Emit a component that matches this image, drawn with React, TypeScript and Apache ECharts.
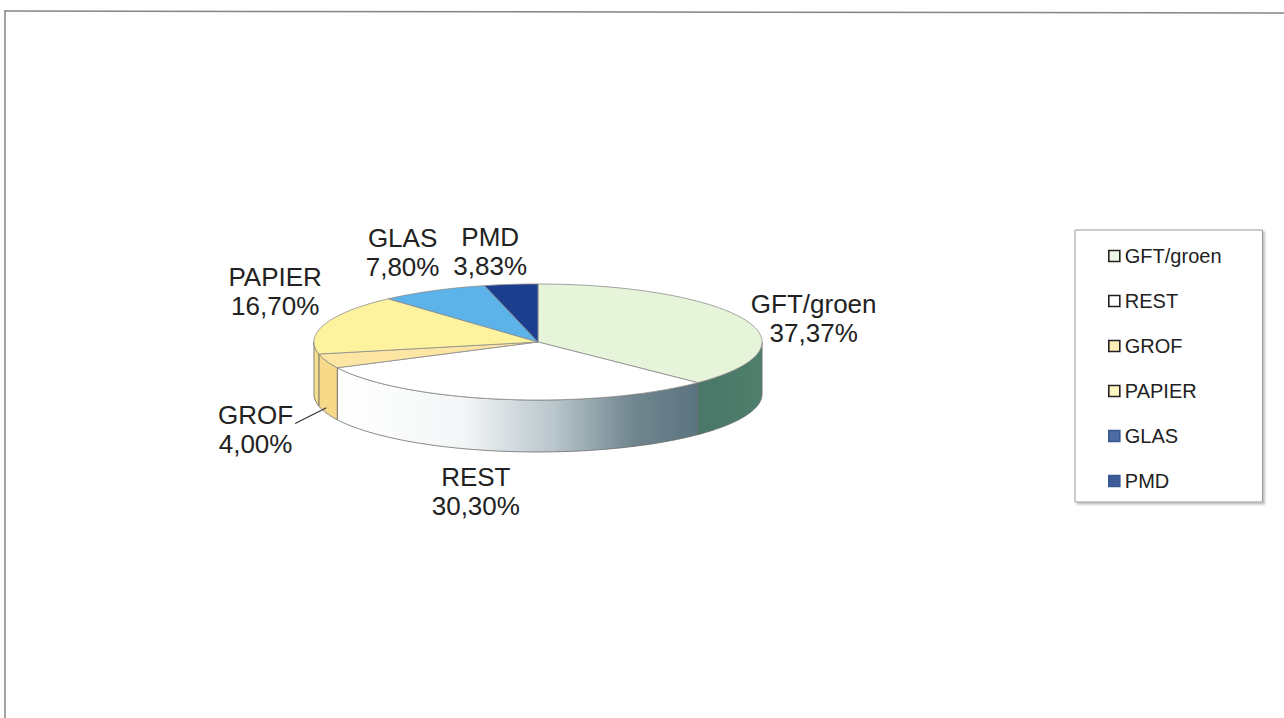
import React, { useEffect, useRef } from "react";
import * as echarts from "echarts";

// ---- data ----
const categories = ["GFT/groen", "REST", "GROF", "PAPIER", "GLAS", "PMD"];
const shares = [37.37, 30.3, 4.0, 16.7, 7.8, 3.83];

// ---- styles ----
const topColors = ["#e6f4d9", "#ffffff", "#fde6a4", "#fdf39e", "#5cb3ea", "#1c3e8e"];
const legendColors = ["#eef7e6", "#ffffff", "#fdebb8", "#fdf6c0", "#4d6ca6", "#3d5c98"];
const legendBorders = ["#222", "#222", "#222", "#222", "#3a5890", "#3a5890"];
const FONT = '"Liberation Sans", Arial, Helvetica, sans-serif';
const LABEL_SIZE = 26;
const LABEL_LH = 29;
// small layout tweaks of the data labels (like Excel's best-fit placement)
const labelNudge: Record<string, [number, number]> = {
  "GFT/groen": [0, 15],
  REST: [-18, 0],
  GROF: [-24, 3],
  PAPIER: [6, -20],
  GLAS: [-8, -2],
  PMD: [-15, 8],
};
const leaderFor: Record<string, boolean> = { GROF: true };

let measureCtx: CanvasRenderingContext2D | null = null;
function textWidth(t: string, size: number) {
  if (!measureCtx) measureCtx = document.createElement("canvas").getContext("2d");
  if (!measureCtx) return t.length * size * 0.55;
  measureCtx.font = `${size}px ${FONT}`;
  return measureCtx.measureText(t).width;
}

function sideFill(i: number) {
  if (i === 0)
    return new echarts.graphic.LinearGradient(0, 0, 1, 0, [
      { offset: 0, color: "#4a7767" },
      { offset: 1, color: "#4f7f6d" },
    ]);
  if (i === 1)
    return new echarts.graphic.LinearGradient(0, 0, 1, 0, [
      { offset: 0, color: "#ffffff" },
      { offset: 0.35, color: "#f3f6f7" },
      { offset: 0.6, color: "#b9c6cc" },
      { offset: 0.82, color: "#71868f" },
      { offset: 1, color: "#5b7480" },
    ]);
  const flat = ["", "", "#f7d98a", "#f2e08a", "#3d8fc8", "#12306f"];
  return flat[i];
}

export default function App() {
  const ref = useRef<HTMLDivElement>(null);
  useEffect(() => {
    document.body.style.margin = "0";
    const chart = echarts.init(ref.current!, null, { renderer: "svg" });
    const total = shares.reduce((a, b) => a + b, 0);
    let acc = 0;
    const ranges = shares.map((v) => {
      const s = acc / total;
      acc += v;
      return [s, acc / total];
    });

    const series = categories.map((name, i) => ({
      type: "custom",
      name,
      coordinateSystem: "none",
      itemStyle: { color: topColors[i] },
      data: [{ name, value: [ranges[i][0], ranges[i][1], shares[i]] }],
      renderItem: (params: any, api: any) => {
        const W = api.getWidth();
        const H = api.getHeight();
        const cx = W * 0.419;
        const cy = H * 0.4763;
        const rx = W * 0.1745;
        const ry = H * 0.0808;
        const depth = H * 0.0724;
        const a = api.value(0) * 360;
        const b = api.value(1) * 360;
        const v = api.value(2);
        const pt = (deg: number, dz: number) => {
          const r = (deg * Math.PI) / 180;
          return [cx + rx * Math.sin(r), cy - ry * Math.cos(r) + dz];
        };
        const arc = (from: number, to: number, dz: number) => {
          const n = Math.max(2, Math.ceil(Math.abs(to - from)));
          const pts: number[][] = [];
          for (let k = 0; k <= n; k++) pts.push(pt(from + ((to - from) * k) / n, dz));
          return pts;
        };
        const children: any[] = [];
        const fa = Math.max(a, 90);
        const fb = Math.min(b, 270);
        if (fb > fa) {
          children.push({
            type: "polygon",
            z2: 1,
            shape: { points: [...arc(fa, fb, 0), ...arc(fb, fa, depth)] },
            style: { fill: sideFill(i), stroke: "#6a6a6a", lineWidth: 0.8 },
          });
        }
        children.push({
          type: "polygon",
          z2: 5,
          shape: { points: [[cx, cy], ...arc(a, b, 0)] },
          style: { fill: topColors[i], stroke: "#8c8c8c", lineWidth: 0.8 },
        });
        // label
        const mid = (a + b) / 2;
        const r = (mid * Math.PI) / 180;
        const ux = Math.sin(r);
        const uy = -Math.cos(r);
        const front = mid > 90 && mid < 270;
        const gap = 12;
        const l1 = String(params.name ?? categories[i]);
        const l2 = v.toFixed(2).replace(".", ",") + "%";
        const w = Math.max(textWidth(l1, LABEL_SIZE), textWidth(l2, LABEL_SIZE));
        const h = LABEL_LH * 2;
        const nud = labelNudge[l1] || [0, 0];
        const lx = cx + (rx + gap) * ux + (ux * w) / 2 + nud[0];
        const ly = cy + (ry + gap) * uy + (front ? depth : 0) + (uy * h) / 2 + nud[1];
        children.push({
          type: "text",
          z2: 10,
          style: {
            text: l1 + "\n" + l2,
            x: lx,
            y: ly,
            align: "center",
            verticalAlign: "middle",
            fill: "#222",
            font: `${LABEL_SIZE}px ${FONT}`,
            lineHeight: LABEL_LH,
          },
        });
        if (leaderFor[l1]) {
          const end = pt(mid, depth * 0.9);
          children.push({
            type: "polyline",
            z2: 10,
            shape: { points: [[lx + textWidth(l1, LABEL_SIZE) / 2 + 2, ly - 6], end] },
            style: { stroke: "#333", lineWidth: 1.2, fill: null },
          });
        }
        return { type: "group", children };
      },
    }));

    chart.setOption({
      animation: false,
      backgroundColor: "#ffffff",
      legend: {
        orient: "vertical",
        left: 1075,
        top: 230,
        padding: [16, 41, 11, 33],
        itemGap: 25,
        itemWidth: 11,
        itemHeight: 11,
        icon: "rect",
        selectedMode: false,
        backgroundColor: "#ffffff",
        borderColor: "#9a9a9a",
        borderWidth: 1,
        shadowColor: "rgba(0,0,0,0.25)",
        shadowBlur: 2,
        shadowOffsetX: 2,
        shadowOffsetY: 2,
        textStyle: { fontSize: 20, color: "#222", fontFamily: FONT },
        data: categories.map((n, i) => ({
          name: n,
          itemStyle: { color: legendColors[i], borderColor: legendBorders[i], borderWidth: 1.6 },
        })),
      },
      graphic: [
        {
          type: "line",
          shape: { x1: 4, y1: 11, x2: 1284, y2: 13 },
          style: { stroke: "#858585", lineWidth: 1.5 },
        },
        {
          type: "line",
          shape: { x1: 5, y1: 11, x2: 5, y2: 718 },
          style: { stroke: "#858585", lineWidth: 1.5 },
        },
      ],
      series,
    });
    return () => chart.dispose();
  }, []);
  return <div ref={ref} style={{ width: 1284, height: 718 }} />;
}
